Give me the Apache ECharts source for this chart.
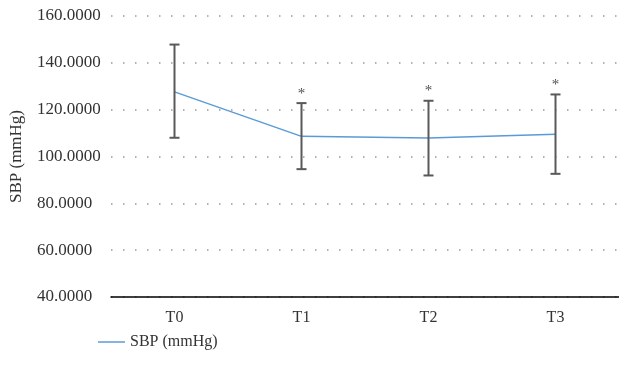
<!DOCTYPE html>
<html><head><meta charset="utf-8">
<script src="https://cdn.jsdelivr.net/npm/echarts@6/dist/echarts.min.js"></script>
<style>html,body{margin:0;padding:0;background:#fff}#c{width:619px;height:366px}</style>
</head><body><div id="c"></div>
<script>
var categories = ['T0', 'T1', 'T2', 'T3'];
var meanValues = [127.6, 108.6, 107.9, 109.5];
var upperValues = [147.8, 122.8, 123.8, 126.5];
var lowerValues = [108.0, 94.6, 91.9, 92.6];
var starMarks = ['', '*', '*', '*'];
var yTicks = { min: 40, max: 160, interval: 20 };

var serif = '"Liberation Serif", "DejaVu Serif", serif';
var chart = echarts.init(document.getElementById('c'));
var errData = categories.map(function (c, i) { return [i, lowerValues[i], upperValues[i]]; });
var starData = categories.map(function (c, i) { return { value: [i, upperValues[i]], label: { formatter: starMarks[i] } }; });

chart.setOption({
  animation: false,
  grid: { left: 109, right: 0, top: 16, bottom: 69 },
  legend: {
    data: ['SBP (mmHg)'], left: 93, top: 329,
    icon: 'rect', itemWidth: 27, itemHeight: 1.5, itemGap: 10,
    textStyle: { fontFamily: serif, fontSize: 16, color: '#333' }
  },
  xAxis: {
    type: 'category', data: categories,
    axisLine: { lineStyle: { color: '#000', width: 1.5 } },
    axisTick: { show: false },
    axisLabel: { fontFamily: serif, fontSize: 16, color: '#333', margin: 13 }
  },
  yAxis: {
    type: 'value', min: yTicks.min, max: yTicks.max, interval: yTicks.interval,
    name: 'SBP (mmHg)', nameLocation: 'middle', nameGap: 86,
    nameTextStyle: { fontFamily: serif, fontSize: 17, color: '#333' },
    axisLine: { show: false }, axisTick: { show: false },
    axisLabel: { fontFamily: serif, fontSize: 17, color: '#333', align: 'left', margin: 74,
      formatter: function (v) { return v.toFixed(4); } },
    splitLine: { lineStyle: { color: '#999', width: 1.5, type: [1.5, 10.5] } }
  },
  series: [
    {
      name: 'SBP (mmHg)', type: 'line', data: meanValues,
      symbol: 'none', lineStyle: { color: '#5b9bd5', width: 1.5 }, itemStyle: { color: '#5b9bd5' }, z: 3
    },
    {
      type: 'custom', data: errData, z: 4,
      renderItem: function (params, api) {
        var x = api.value(0);
        var lo = api.coord([x, api.value(1)]);
        var hi = api.coord([x, api.value(2)]);
        var w = 5;
        var st = { stroke: '#595959', lineWidth: 2 };
        return { type: 'group', children: [
          { type: 'line', shape: { x1: lo[0], y1: lo[1], x2: hi[0], y2: hi[1] }, style: st },
          { type: 'line', shape: { x1: lo[0] - w, y1: lo[1], x2: lo[0] + w, y2: lo[1] }, style: st },
          { type: 'line', shape: { x1: hi[0] - w, y1: hi[1], x2: hi[0] + w, y2: hi[1] }, style: st }
        ]};
      }
    },
    {
      type: 'scatter', data: starData, symbolSize: 0, z: 5,
      label: { show: true, position: 'top', distance: 2, fontFamily: serif, fontSize: 15, color: '#222' }
    }
  ]
});
</script></body></html>
